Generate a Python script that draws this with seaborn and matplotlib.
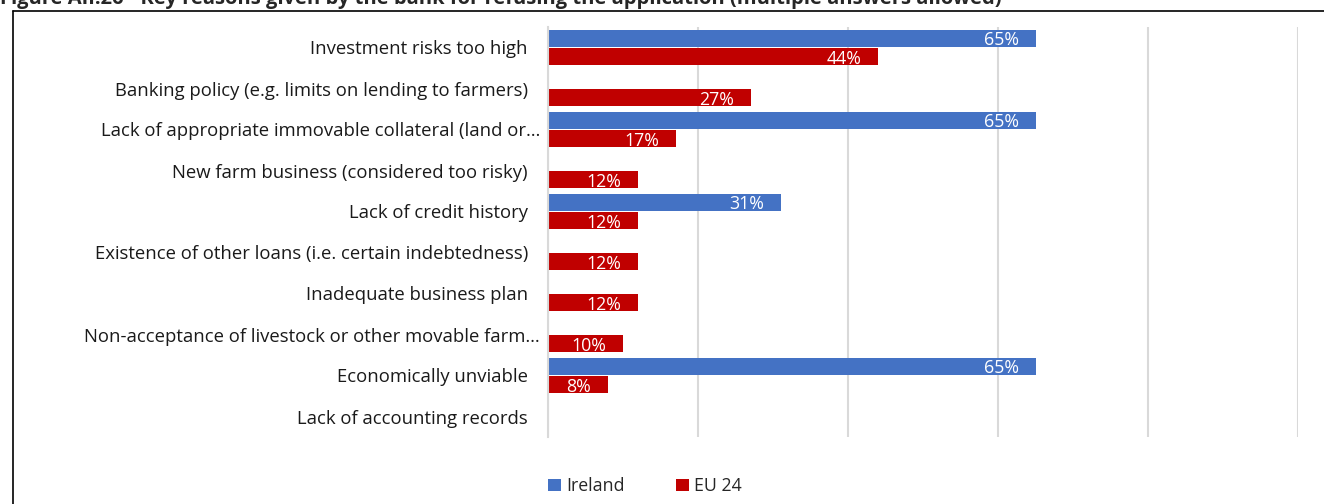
import matplotlib.pyplot as plt
import seaborn as sns
import pandas as pd
from matplotlib.lines import Line2D
from matplotlib.transforms import ScaledTranslation

# chart data
reasons = [
    'Investment risks too high',
    'Banking policy (e.g. limits on lending to farmers)',
    'Lack of appropriate immovable collateral (land or…',
    'New farm business (considered too risky)',
    'Lack of credit history',
    'Existence of other loans (i.e. certain indebtedness)',
    'Inadequate business plan',
    'Non-acceptance of livestock or other movable farm…',
    'Economically unviable',
    'Lack of accounting records',
]
ireland = [65, 0, 65, 0, 31, 0, 0, 0, 65, 0]
eu24 = [44, 27, 17, 12, 12, 12, 12, 10, 8, 0]
groups = ['Ireland', 'EU 24']
colors = ['#4472C4', '#C00000']
title = ('Figure AII.26 - Key reasons given by the bank for refusing the '
         'application (multiple answers allowed)')

df = pd.DataFrame({
    'Reason': reasons * 2,
    'Group': [groups[0]] * len(reasons) + [groups[1]] * len(reasons),
    'Value': ireland + eu24,
})

sns.set_theme(style='white')
plt.rcParams['font.family'] = ['Open Sans', 'DejaVu Sans']

W, H = 1324, 504
fig = plt.figure(figsize=(W / 100, H / 100), dpi=100)
ax = fig.add_axes([548 / W, 1 - 437 / H, 750 / W, 410 / H])

sns.barplot(data=df, y='Reason', x='Value', hue='Group', hue_order=groups,
            palette=colors, saturation=1, orient='h', width=0.88, gap=0.1,
            linewidth=0, legend=False, ax=ax)

ax.set_xlim(0, 100)
ax.set_xticks(range(0, 101, 20))
ax.set_xticklabels([])
ax.grid(axis='x', color='#d9d9d9', lw=1.5)
ax.grid(axis='y', visible=False)
ax.set_xlabel('')
ax.set_ylabel('')
for side in ['top', 'right', 'bottom']:
    ax.spines[side].set_visible(False)
ax.spines['left'].set_color('#d9d9d9')
ax.spines['left'].set_linewidth(1.5)
ax.tick_params(axis='y', length=0, pad=14.4, labelsize=13.3, labelcolor='#1a1a1a')
ax.tick_params(axis='x', length=0)

# truncated labels sit a bit closer to the axis
for lab in ax.get_yticklabels():
    if lab.get_text().endswith('…'):
        lab.set_transform(lab.get_transform() + ScaledTranslation(12 / 100, 0, fig.dpi_scale_trans))

# value labels inside bar ends
for cont, vals in zip(ax.containers, [ireland, eu24]):
    labels = [f'{v}%' if v > 0 else '' for v in vals]
    texts = ax.bar_label(cont, labels=labels, padding=-12, color='white', fontsize=12.8)
    for t in texts:
        t.set_ha('right')
        t.set_va('center_baseline')

fig.legend(ax.containers, groups, loc='center', bbox_to_anchor=(645 / W, 1 - 486 / H),
           ncol=2, frameon=False, fontsize=12.8, handlelength=0.7, handleheight=0.7,
           handletextpad=0.3, columnspacing=2.9)

# title (cut at the top like the source) and frame
fig.text(0, 1 - 4 / H, title, fontweight='bold', fontsize=14.5, ha='left', va='baseline')
y_top = 1 - 10.5 / H
x_left = 12.5 / W
fig.add_artist(Line2D([x_left, x_left], [0, y_top], color='black', lw=1.2))
fig.add_artist(Line2D([x_left, 1], [y_top, y_top], color='black', lw=1.2))

fig.savefig('out.png', dpi=100)
